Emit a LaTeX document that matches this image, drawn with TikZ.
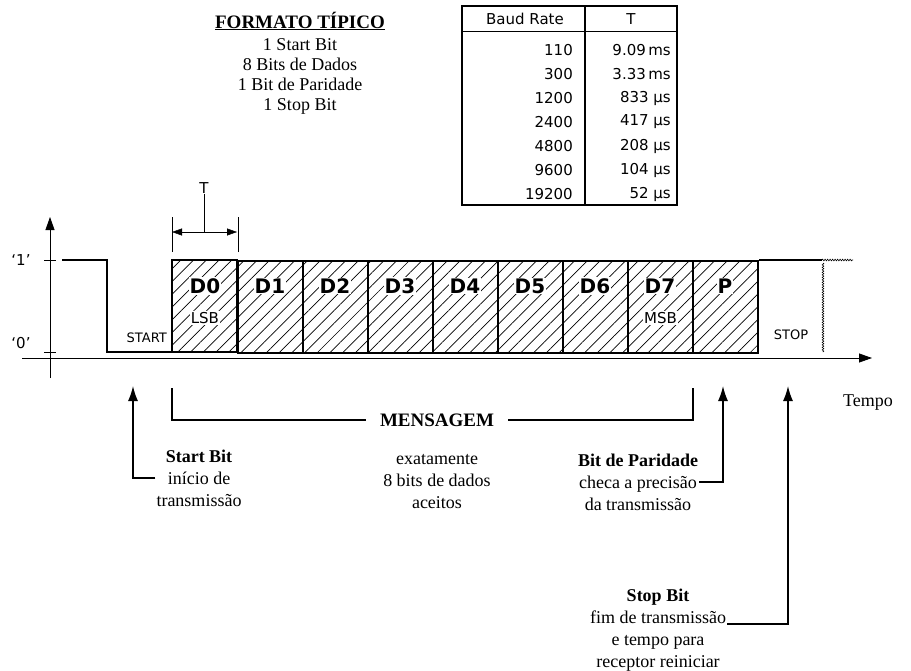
\documentclass[tikz,border=0pt]{standalone}
\usepackage{fontspec}
\setmainfont{Liberation Serif}
\setsansfont{DejaVu Sans}
\usetikzlibrary{arrows.meta}
\usetikzlibrary{patterns.meta}
\usetikzlibrary{decorations.pathmorphing}
\tikzset{
    note/.style = {align=center, inner sep=1pt, font=\fontsize{18}{22}\selectfont},
    head/.style = {note, font=\fontsize{19}{21}\selectfont\bfseries},
    tbl/.style = {inner sep=0pt, font=\sffamily\fontsize{15}{15}\selectfont},
    bitbox/.style = {draw, line width=2.2pt, minimum width=65pt, minimum height=92pt, anchor=north west, inner sep=0pt,
        pattern={Lines[angle=45, distance=9pt, line width=0.7pt]}},
    bitlbl/.style = {fill=white, inner sep=1pt, font=\sffamily\bfseries\fontsize{20}{20}\selectfont},
    sublbl/.style = {fill=white, inner sep=1pt, font=\sffamily\fontsize{15}{15}\selectfont},
    wave/.style = {line width=2.2pt},
    axis/.style = {line width=0.8pt, -{Triangle[length=13pt, width=9pt]}},
    pointer/.style = {line width=1.4pt, -{Latex[length=15pt, width=10pt]}},
    bracket/.style = {line width=1.4pt},
    wiggle/.style = {decorate, decoration={zigzag, amplitude=0.8pt, segment length=2.5pt}, line width=0.6pt}
}

\begin{document}
\begin{tikzpicture}[x=1pt, y=-1pt]
\useasboundingbox (0,0) rectangle (911,670);

% formato
\node[head] (fmt) at (300,21) {\underline{FORMATO TÍPICO}};
\node[note, font=\fontsize{18}{20}\selectfont] (fmtlist) at (300,76) {1 Start Bit\\8 Bits de Dados\\1 Bit de Paridade\\1 Stop Bit};

% tabela
\draw[line width=1.6pt] (462,6) rectangle (677,205);
\draw[line width=1.6pt] (585,6) -- (585,205);
\draw[line width=1pt] (462,31) -- (677,31);
\node[tbl] (hbaud) at (525,19) {Baud Rate};
\node[tbl] (hper) at (631,19) {T};
\foreach \baud/\per [count=\r from 0] in {110/9.09\,ms, 300/3.33\,ms, 1200/833 µs, 2400/417 µs, 4800/208 µs, 9600/104 µs, 19200/52 µs}
{
    \node[tbl, anchor=east] (baud\r) at (573,50+24*\r) {\baud};
    \node[tbl, anchor=east] (per\r) at (671,50+24*\r) {\per};
}

% eixos
\draw[axis] (50,378) -- (50,217);
\draw[axis] (22,358) -- (872,358);
\draw (44,260) -- (56,260);
\draw (44,352) -- (56,352);
\node[tbl] (one) at (21,260) {`1'};
\node[tbl] (zero) at (21,343) {`0'};
\node[note] (tempo) at (868,403) {Tempo};

% forma de onda
\draw[wave] (62,260) -- (107,260) -- (107,352) -- (172,352) -- (172,260);
\foreach \lbl [count=\i from 0] in {D0,D1,D2,D3,D4,D5,D6,D7,P}
{
    \node[bitbox] (b\i) at (172+65*\i,260) {};
    \node[bitlbl] (l\i) at (205+65*\i,286) {\lbl};
}
\node[sublbl] (lsb) at (b0.center |- 0,318) {LSB};
\node[sublbl] (msb) at (b7.center |- 0,318) {MSB};
\draw[wave] (b8.north east) -- (822,260);
\draw[wiggle] (822,260) -- (853,260);
\draw[wiggle] (823,263) -- (823,352);
\node[sublbl, anchor=east, font=\sffamily\fontsize{13}{13}\selectfont] (start) at (168,338) {START};
\node[sublbl, font=\sffamily\fontsize{13}{13}\selectfont] (stop) at (791,335) {STOP};

% periodo T
\draw (b0.north west) ++(0,-8) -- ++(0,-35) coordinate (tleft);
\draw (b0.north east) ++(0,-8) -- ++(0,-35) coordinate (tright);
\coordinate (tmid) at (204,232);
\draw[{Triangle[length=10pt, width=7pt]}-{Triangle[length=10pt, width=7pt]}] (172,232) -- (237,232);
\node[tbl] (tlbl) at (204,188) {T};
\draw (tlbl.south) -- (tmid);

% anotacoes
\node[note] (startnote) at (199,478) {\textbf{Start Bit}\\início de\\transmissão};
\coordinate (starttip) at (133,386);
\draw[pointer] (startnote.west) -| (starttip);

\node[head, inner xsep=14pt] (msg) at (437,420) {MENSAGEM};
\draw[bracket] (172,388) |- (msg.west);
\draw[bracket] (msg.east) -| (693,388);
\node[note] (msgnote) at (437,482) {exatamente\\8 bits de dados\\aceitos};

\node[note] (paritynote) at (638,482) {\textbf{Bit de Paridade}\\checa a precisão\\da transmissão};
\coordinate (paritytip) at (723,386);
\draw[pointer] (paritynote.east) -| (paritytip);

\node[note] (stopnote) at (658,630) {\textbf{Stop Bit}\\fim de transmissão\\e tempo para\\receptor reiniciar};
\coordinate (stoptip) at (788,386);
\draw[pointer] ([yshift=6pt]stopnote.east) -| (stoptip);
\end{tikzpicture}
\end{document}
